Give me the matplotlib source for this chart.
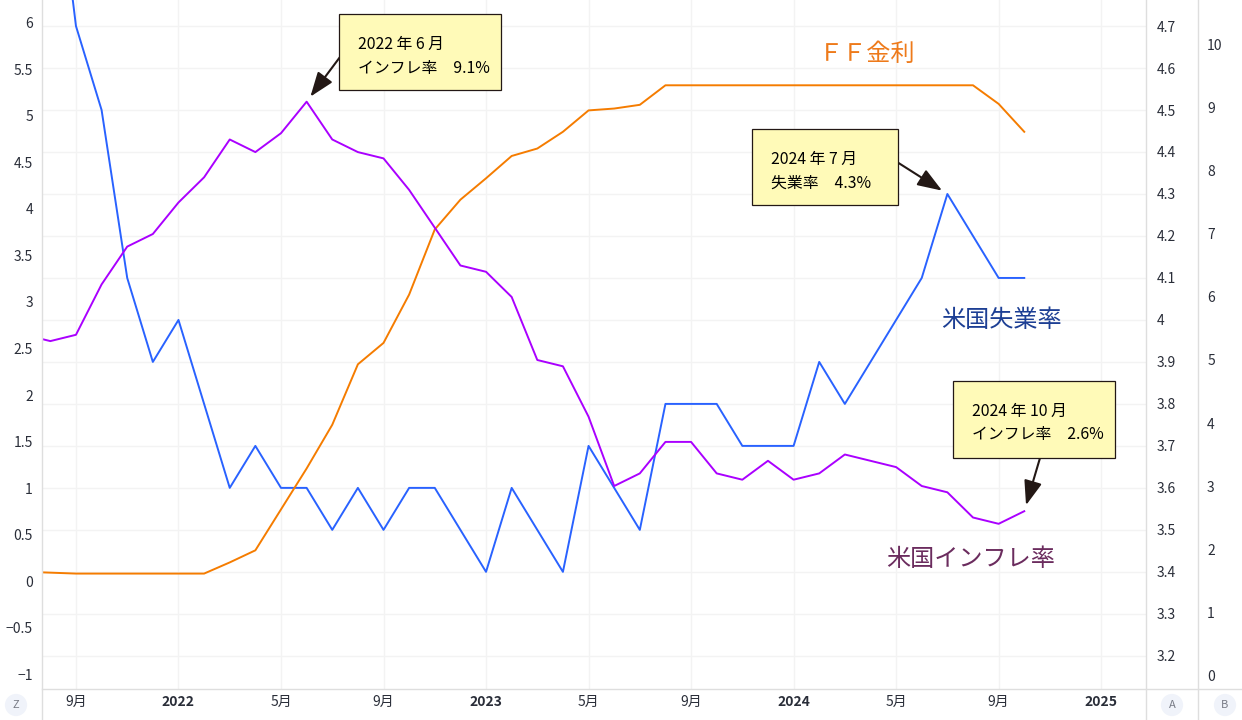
import matplotlib
matplotlib.use('Agg')
import matplotlib.pyplot as plt
from matplotlib.lines import Line2D
from matplotlib.patches import Rectangle

plt.rcParams['font.family'] = ['Noto Sans CJK JP', 'DejaVu Sans']

W, H = 1242, 720

# months counted from 2021-07
inflation = [5.4, 5.3, 5.4, 6.2, 6.8, 7.0, 7.5, 7.9, 8.5, 8.3, 8.6, 9.1, 8.5, 8.3, 8.2, 7.7, 7.1, 6.5,
             6.4, 6.0, 5.0, 4.9, 4.1, 3.0, 3.2, 3.7, 3.7, 3.2, 3.1, 3.4,
             3.1, 3.2, 3.5, 3.4, 3.3, 3.0, 2.9, 2.5, 2.4, 2.6]
unemployment = [5.4, 5.2, 4.7, 4.5, 4.1, 3.9, 4.0, 3.8, 3.6, 3.7, 3.6, 3.6, 3.5, 3.6, 3.5, 3.6, 3.6, 3.5,
                3.4, 3.6, 3.5, 3.4, 3.7, 3.6, 3.5, 3.8, 3.8, 3.8, 3.7, 3.7,
                3.7, 3.9, 3.8, 3.9, 4.0, 4.1, 4.3, 4.2, 4.1, 4.1]
ff_rate = [0.10, 0.09, 0.08, 0.08, 0.08, 0.08, 0.08, 0.08, 0.20, 0.33, 0.77, 1.21, 1.68, 2.33, 2.56, 3.08, 3.78, 4.10,
           4.33, 4.57, 4.65, 4.83, 5.06, 5.08, 5.12, 5.33, 5.33, 5.33, 5.33, 5.33,
           5.33, 5.33, 5.33, 5.33, 5.33, 5.33, 5.33, 5.33, 5.13, 4.83]
months = list(range(len(inflation)))

x_ticks = [2, 6, 10, 14, 18, 22, 26, 30, 34, 38, 42]
x_labels = ['9月', '2022', '5月', '9月', '2023', '5月', '9月', '2024', '5月', '9月', '2025']
left_ticks = [-1, -0.5, 0, 0.5, 1, 1.5, 2, 2.5, 3, 3.5, 4, 4.5, 5, 5.5, 6]
left_labels = ['−1', '−0.5', '0', '0.5', '1', '1.5', '2', '2.5', '3', '3.5', '4', '4.5', '5', '5.5', '6']
a_ticks = [3.2, 3.3, 3.4, 3.5, 3.6, 3.7, 3.8, 3.9, 4.0, 4.1, 4.2, 4.3, 4.4, 4.5, 4.6, 4.7]
a_labels = ['3.2', '3.3', '3.4', '3.5', '3.6', '3.7', '3.8', '3.9', '4', '4.1', '4.2', '4.3', '4.4', '4.5', '4.6', '4.7']
b_ticks = [0, 1, 2, 3, 4, 5, 6, 7, 8, 9, 10]

TEXT = '#2a2e39'
GRID = '#f3f3f3'
EDGE = '#dedede'
TICK_SIZE = 10


def fx(px):
    return px / W


def fy(px):
    return 1 - px / H


fig = plt.figure(figsize=(W / 100, H / 100), dpi=100, facecolor='white')
ax_a = fig.add_axes([fx(42), fy(689), fx(1146 - 42), 689 / H])
ax_l = ax_a.twinx()
ax_b = ax_a.twinx()

for ax in (ax_a, ax_l, ax_b):
    ax.set_xlim(0.675, 43.75)
    for s in ax.spines.values():
        s.set_visible(False)
    ax.patch.set_visible(False)

ax_a.set_ylim(3.121, 4.762)
ax_l.set_ylim(-1.161, 6.247)
ax_b.set_ylim(-0.222, 10.714)

ax_a.set_xticks(x_ticks)
ax_a.set_xticklabels(x_labels)
ax_a.tick_params(axis='x', length=0, pad=4, labelsize=TICK_SIZE, labelcolor=TEXT)
for lab in ax_a.get_xticklabels():
    if lab.get_text().startswith('20'):
        lab.set_fontweight('bold')
ax_a.grid(True, color=GRID, linewidth=1)
ax_a.set_axisbelow(True)

ax_a.set_yticks(a_ticks)
ax_a.set_yticklabels(a_labels)
ax_a.yaxis.tick_right()
ax_a.tick_params(axis='y', length=0, pad=8, labelsize=TICK_SIZE, labelcolor=TEXT)

ax_l.set_yticks(left_ticks)
ax_l.set_yticklabels(left_labels)
ax_l.yaxis.tick_left()
ax_l.tick_params(axis='y', length=0, pad=6.5, labelsize=TICK_SIZE, labelcolor=TEXT)

ax_b.set_yticks(b_ticks)
ax_b.yaxis.tick_right()
ax_b.tick_params(axis='y', length=0, pad=44, labelsize=TICK_SIZE, labelcolor=TEXT)

ax_a.plot(months, unemployment, color='#2962ff', lw=1.4)
ax_l.plot(months, ff_rate, color='#f57c00', lw=1.4)
ax_b.plot(months, inflation, color='#aa00ff', lw=1.4)

# frame lines of the panes
for x0, y0, x1, y1 in [(42, 689, 1242, 689), (42, 0, 42, 720), (1146, 0, 1146, 720), (1198, 0, 1198, 720)]:
    fig.add_artist(Line2D([fx(x0), fx(x1)], [fy(y0), fy(y1)], color=EDGE, lw=1, zorder=5))

# scale badges at the bottom
for x, s in [(16, 'Z'), (1172, 'A'), (1225, 'B')]:
    fig.text(fx(x), fy(705), s, fontsize=8, color='#787b86', ha='center', va='center',
             bbox=dict(boxstyle='circle,pad=0.55', fc='#f0f3fa', ec='none'), zorder=6)

# series names
fig.text(fx(867), fy(54), 'ＦＦ金利', fontsize=17.4, color='#ee7a1a', ha='center', va='center', zorder=6)
fig.text(fx(1001), fy(320), '米国失業率', fontsize=17.4, color='#1d3f94', ha='center', va='center', zorder=6)
fig.text(fx(971), fy(559), '米国インフレ率', fontsize=17.4, color='#6b2c5e', ha='center', va='center', zorder=6)


def callout(x0, y0, x1, y1, line1, line2, tx, ty1, ty2):
    fig.add_artist(Rectangle((fx(x0), fy(y1)), fx(x1 - x0), (y1 - y0) / H, transform=fig.transFigure,
                             fc='#fffab8', ec='#231815', lw=0.9, zorder=7))
    fig.text(fx(tx), fy(ty1), line1, fontsize=11.4, color='#000000', va='center', zorder=8)
    fig.text(fx(tx), fy(ty2), line2, fontsize=11.4, color='#000000', va='center', zorder=8)


# arrows start at the box edge and stop just short of the marked month
def pointer(ax, idx, values, start):
    ax.annotate('', xy=(idx, values[idx]), xycoords='data',
                xytext=(fx(start[0]), fy(start[1])), textcoords='figure fraction',
                arrowprops=dict(arrowstyle='-|>,head_length=1.5,head_width=0.55', color='#231815',
                                lw=1.5, shrinkA=0, shrinkB=4.5), annotation_clip=False, zorder=9)


callout(339, 14, 501, 90, '2022 年 6 月', 'インフレ率　9.1%', 358, 44, 68)
callout(752, 129, 898, 205, '2024 年 7 月', '失業率　4.3%', 771, 159, 183)
callout(953, 381, 1115, 458, '2024 年 10 月', 'インフレ率　2.6%', 972, 411, 435)
pointer(ax_b, 11, inflation, (340, 57))
pointer(ax_a, 36, unemployment, (897, 162))
pointer(ax_b, 39, inflation, (1040, 458))

fig.savefig('out.png', dpi=100)
